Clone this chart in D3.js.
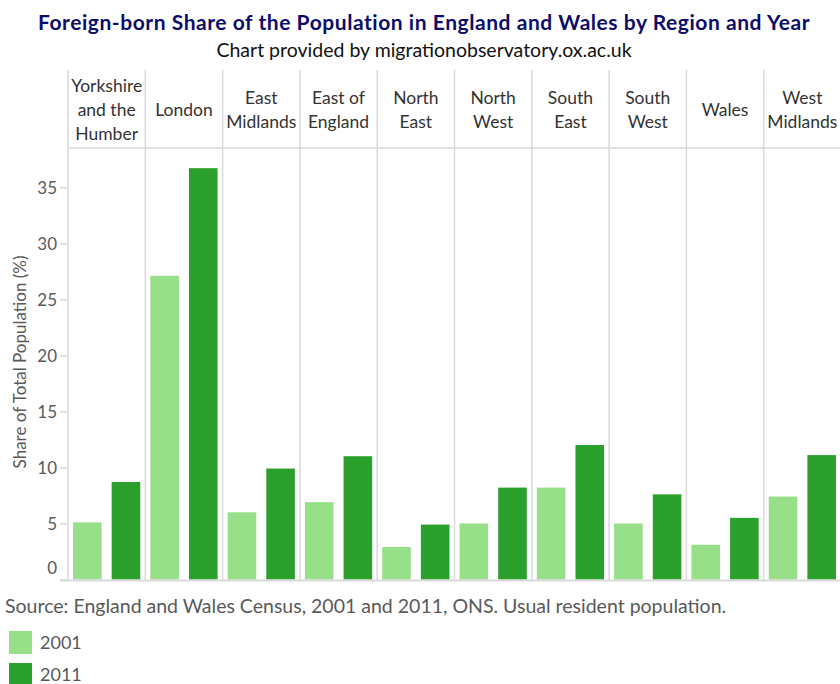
<!DOCTYPE html>
<html>
<head>
<meta charset="utf-8">
<script src="https://cdn.jsdelivr.net/npm/d3@7"></script>
<style>
  body { margin: 0; background: #fff; }
  text { font-family: Lato, "Open Sans", sans-serif; }
</style>
</head>
<body>
<div class="chart"></div>
<script>
// data
var regions = ["Yorkshire and the Humber", "London", "East Midlands", "East of England",
  "North East", "North West", "South East", "South West", "Wales", "West Midlands"];
var headerLines = [["Yorkshire", "and the", "Humber"], ["London"], ["East", "Midlands"],
  ["East of", "England"], ["North", "East"], ["North", "West"], ["South", "East"],
  ["South", "West"], ["Wales"], ["West", "Midlands"]];
var years = ["2001", "2011"];
var share2001 = [5.1, 27.1, 6.0, 6.9, 2.9, 5.0, 8.2, 5.0, 3.1, 7.4];
var share2011 = [8.7, 36.7, 9.9, 11.0, 4.9, 8.2, 12.0, 7.6, 5.5, 11.1];
var yTicks = [0, 5, 10, 15, 20, 25, 30, 35];
var colors = ["#98df8a", "#2ca02c"];

var svgWidth = 840, svgHeight = 684;
var plot = { left: 68, right: 841, headTop: 70, headBottom: 148, bottom: 579.5 };

var svg = d3.select(".chart").append("svg")
  .attr("width", svgWidth)
  .attr("height", svgHeight);

// title
svg.append("text")
  .attr("x", 424).attr("y", 30)
  .attr("text-anchor", "middle")
  .style("font-size", "21px").style("font-weight", "bold")
  .style("letter-spacing", "0.55px")
  .attr("fill", "#0c0c6b")
  .text("Foreign-born Share of the Population in England and Wales by Region and Year");
svg.append("text")
  .attr("x", 424).attr("y", 57)
  .attr("text-anchor", "middle")
  .style("font-size", "19.5px")
  .attr("fill", "#111")
  .text("Chart provided by migrationobservatory.ox.ac.uk");

// scales
var x0 = d3.scaleBand().domain(regions).range([plot.left, plot.right]);
var x1 = d3.scaleBand().domain(years).range([0, x0.bandwidth()])
  .paddingInner(0.26).paddingOuter(0.13);
var y = d3.scaleLinear().domain([0, 38.5]).range([plot.bottom, plot.headBottom]);
var color = d3.scaleOrdinal().domain(years).range(colors);

var rows = regions.map(function(r, i) {
  return { region: r, lines: headerLines[i], values: [
    { year: "2001", value: share2001[i] },
    { year: "2011", value: share2011[i] }] };
});

// panel grid lines
svg.append("g").selectAll("line")
  .data(regions)
  .enter().append("line")
  .attr("x1", d => x0(d)).attr("x2", d => x0(d))
  .attr("y1", plot.headTop).attr("y2", plot.bottom + 1)
  .attr("stroke", "#d9d9d9").attr("stroke-width", 1.5);

svg.append("line")
  .attr("x1", plot.left).attr("x2", plot.right)
  .attr("y1", plot.headBottom).attr("y2", plot.headBottom)
  .attr("stroke", "#d9d9d9").attr("stroke-width", 1.5);

// headers
var heads = svg.append("g").selectAll("text")
  .data(rows)
  .enter().append("text")
  .attr("text-anchor", "middle")
  .attr("fill", "#333")
  .style("font-size", "17.5px");
heads.each(function(d) {
  var t = d3.select(this);
  var cx = x0(d.region) + x0.bandwidth() / 2;
  var mid = (plot.headTop + plot.headBottom) / 2 + 1;
  d.lines.forEach(function(l, j) {
    t.append("tspan")
      .attr("x", cx)
      .attr("y", mid + (j - (d.lines.length - 1) / 2) * 24)
      .attr("dy", "0.35em")
      .text(l);
  });
});

// bars
var groups = svg.append("g").selectAll("g")
  .data(rows)
  .enter().append("g")
  .attr("transform", d => `translate(${x0(d.region)},0)`);
groups.selectAll("rect")
  .data(d => d.values)
  .enter().append("rect")
  .attr("x", d => x1(d.year))
  .attr("width", x1.bandwidth())
  .attr("y", d => y(d.value))
  .attr("height", d => y(0) - y(d.value))
  .attr("fill", d => color(d.year));

// y axis
var leftAxis = d3.axisLeft(y).tickValues(yTicks).tickSize(7).tickPadding(3);
var yAxis = svg.append("g")
  .attr("transform", `translate(${plot.left - 1},0)`)
  .call(leftAxis);
yAxis.select(".domain").remove();
yAxis.selectAll(".tick line").attr("stroke", "#d9d9d9").attr("stroke-width", 1.5);
yAxis.selectAll(".tick text")
  .attr("fill", "#595959")
  .style("font-size", "17px")
  .style("font-family", "Lato, sans-serif")
  .attr("dy", d => d === 0 ? "-0.35em" : "0.35em");

// bottom line
svg.append("line")
  .attr("x1", plot.left - 8).attr("x2", plot.right)
  .attr("y1", plot.bottom + 1).attr("y2", plot.bottom + 1)
  .attr("stroke", "#d9d9d9").attr("stroke-width", 2);

// y title
svg.append("text")
  .attr("transform", "rotate(-90)")
  .attr("x", -362).attr("y", 26)
  .attr("text-anchor", "middle")
  .attr("fill", "#595959")
  .style("font-size", "17px")
  .text("Share of Total Population (%)");

// source
svg.append("text")
  .attr("x", 5).attr("y", 613)
  .attr("fill", "#595959")
  .style("font-size", "19.5px")
  .text("Source: England and Wales Census, 2001 and 2011, ONS. Usual resident population.");

// legend
var legend = svg.append("g").selectAll("g")
  .data(years)
  .enter().append("g")
  .attr("transform", (d, i) => `translate(9,${631 + i * 32})`);
legend.append("rect")
  .attr("width", 23).attr("height", 23)
  .attr("fill", d => color(d));
legend.append("text")
  .attr("x", 31).attr("y", 12).attr("dy", "0.35em")
  .attr("fill", "#595959")
  .style("font-size", "18px")
  .text(d => d);
</script>
</body>
</html>
